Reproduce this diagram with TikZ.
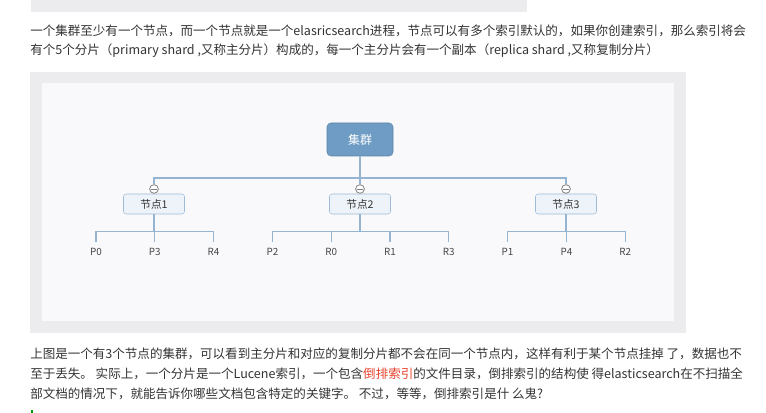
\documentclass[tikz,border=0pt]{standalone}
\usepackage{fontspec}
\newfontfamily\cjk{Noto Sans CJK SC}
\definecolor{bodytext}{HTML}{333333}
\definecolor{framegray}{HTML}{ECECEE}
\definecolor{panelwhite}{HTML}{F9F9FB}
\definecolor{linkblue}{HTML}{94B4D2}
\definecolor{clusterblue}{HTML}{6E9CC4}
\definecolor{hostfill}{HTML}{EEF3F9}
\definecolor{hostline}{HTML}{9DBBD7}
\definecolor{markred}{HTML}{E8412C}
\begin{document}
\begin{tikzpicture}[x=0.75pt,y=-0.75pt,every node/.style={font=\cjk},
  para/.style={anchor=west,inner sep=0pt,text=bodytext,font=\cjk\fontsize{9.4pt}{11pt}\selectfont},
  link/.style={linkblue,line width=0.8pt},
  cluster/.style={fill=clusterblue,draw=clusterblue!85!black,rounded corners=3pt,minimum width=49.5pt,minimum height=24.75pt,text=white,font=\cjk\fontsize{9pt}{10pt}\selectfont},
  hostbox/.style={fill=hostfill,draw=hostline,rounded corners=2pt,minimum width=45.75pt,minimum height=15pt,inner sep=0pt,text=bodytext,font=\cjk\fontsize{8pt}{9pt}\selectfont},
  foldmark/.style={circle,draw=gray,fill=white,minimum size=6.5pt,inner sep=0pt,line width=0.6pt},
  leaf/.style={anchor=north,inner xsep=1pt,inner ysep=4.6pt,text=bodytext!90,font=\cjk\fontsize{7.4pt}{8pt}\selectfont}]
\useasboundingbox (0,0) rectangle (766,413);
\fill[framegray] (31,0) rectangle (527,12);
\node[para] (t1) at (30,31) {一个集群至少有一个节点，而一个节点就是一个elasricsearch进程，节点可以有多个索引默认的，如果你创建索引，那么索引将会};
\node[para] (t2) at (30,51) {有个5个分片（primary shard ,又称主分片）构成的，每一个主分片会有一个副本（replica shard ,又称复制分片）};
\fill[framegray] (30,72) rectangle (686,333);
\fill[panelwhite] (42,83) rectangle (674,321);
\node[cluster] (cl) at (360,139.5) {集群};
\foreach \n/\x in {1/154,2/360,3/566} {
  \node[hostbox] (n\n) at (\x,204) {节点\n};
  \node[foldmark] (m\n) at (\x,189) {};
  \draw[gray,line width=0.6pt] ([xshift=-2.2pt]m\n.center) -- ([xshift=2.2pt]m\n.center);
}
\coordinate (bus) at (360,178);
\draw[link] (cl.south) -- (bus) -- (m2.north);
\draw[link] (m1.north) |- (bus) -| (m3.north);
\foreach \i/\lbl/\p in {0/P0/1,1/P3/1,2/R4/1,3/P2/2,4/R0/2,5/R1/2,6/R3/2,7/P1/3,8/P4/3,9/R2/3} {
  \node[leaf] (s\i) at (96+58.8*\i,242) {\lbl};
  \draw[link] (n\p.south) -- ++(0,17) -| (s\i.north);
}
\node[para] (b1) at (30,354) {上图是一个有3个节点的集群，可以看到主分片和对应的复制分片都不会在同一个节点内，这样有利于某个节点挂掉 了，数据也不};
\node[para] (b2) at (30,374) {至于丢失。 实际上，一个分片是一个Lucene索引，一个包含{\color{markred}倒排索引}的文件目录，倒排索引的结构使 得elasticsearch在不扫描全};
\node[para] (b3) at (30,394) {部文档的情况下，就能告诉你哪些文档包含特定的关键字。 不过，等等，倒排索引是什 么鬼?};
\fill[green!60!black] (31,410) rectangle (33,413);
\end{tikzpicture}
\end{document}
